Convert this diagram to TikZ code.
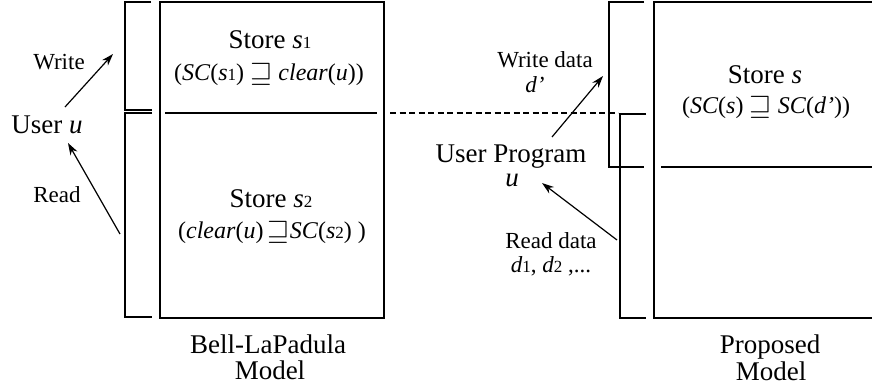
\documentclass[tikz,border=0pt]{standalone}
\usepackage{amssymb}
\usepackage{fontspec}
\setmainfont{Liberation Serif}
\usetikzlibrary{arrows.meta}
\newcommand{\sm}[1]{{\fontsize{17}{17}\selectfont #1}}
\newcommand{\sqge}{\raisebox{-1pt}{\scalebox{1.15}{$\sqsupseteq$}}}
\begin{document}
\begin{tikzpicture}[x=1pt,y=-1pt,
  line width=1.25pt,
  big/.style={font=\fontsize{27}{30}\selectfont, anchor=base, inner sep=0pt},
  small/.style={font=\fontsize{23}{26}\selectfont, anchor=base, inner sep=0pt},
  formula/.style={font=\fontsize{24}{27}\selectfont, anchor=base, inner sep=0pt},
  arr/.style={line width=1.2pt, -{Stealth[length=12pt,width=8pt]}},
  dashline/.style={dash pattern=on 6pt off 3.5pt}]
\useasboundingbox (0,0) rectangle (872,389);
% ---- Bell-LaPadula side ----
\draw (151,2) -- (125,2) -- (125,110) -- (152,110);
\draw (152,113) -- (125,113) -- (125,317) -- (152,317);
\draw (160,2) rectangle (384,318);
\draw (165,113) -- (377,113);
\draw[dashline] (390,113) -- (618,113);
\node[big, text depth=0pt] (s1) at (270,48) {Store \textit{s}\sm{1}};
\node[formula] (f1) at (269,80) {(\textit{SC}(\textit{s}\sm{1}) \sqge{} \textit{clear}(\textit{u}))};
\node[big, text depth=0pt] (s2) at (271,207) {Store \textit{s}\sm{2}};
\node[formula] (f2) at (272,238) {(\textit{clear}(\textit{u})\,\sqge\textit{SC}(\textit{s}\sm{2})\ )};
\node[big] (blp) at (268,353) {Bell-LaPadula};
\node[big] (blpm) at (270,379) {Model};
\node[small] (w) at (59,69) {Write};
\node[big] (user) at (47,133) {User \textit{u}};
\node[small] (r) at (57,202) {Read};
\coordinate (wa) at (65,107);
\coordinate (wb) at (113,54);
\coordinate (ra) at (120,234);
\coordinate (rb) at (68,143);
\draw[arr] (wa) -- (wb);
\draw[arr] (ra) -- (rb);
% ---- Proposed side ----
\draw (644,2) -- (609,2) -- (609,167) -- (644,167);
\draw (646,114) -- (620,114) -- (620,318) -- (646,318);
\draw (873,2) -- (654,2) -- (654,318) -- (873,318);
\draw (661,167) -- (873,167);
\node[big, text depth=0pt] (ss) at (765,83) {Store \textit{s}};
\node[formula] (fs) at (766,113) {(\textit{SC}(\textit{s}) \sqge{} \textit{SC}(\textit{d’}))};
\node[big] (prop) at (770,353) {Proposed};
\node[big] (propm) at (771,380) {Model};
\node[small] (wd) at (545,67) {Write data};
\node[small] (dp) at (535,92) {\textit{d’}};
\node[big] (up) at (511,162) {User Program};
\node[big, text height=12pt] (uu) at (512,186) {\textit{u}};
\node[small] (rd) at (551,248) {Read data};
\node[small] (dd) at (551,272) {\textit{d}\sm{1}, \textit{d}\sm{2} ,...};
\coordinate (wda) at (552,137);
\coordinate (wdb) at (603,76);
\coordinate (rda) at (617,240);
\coordinate (rdb) at (542,183);
\draw[arr] (wda) -- (wdb);
\draw[arr] (rda) -- (rdb);
\end{tikzpicture}
\end{document}
